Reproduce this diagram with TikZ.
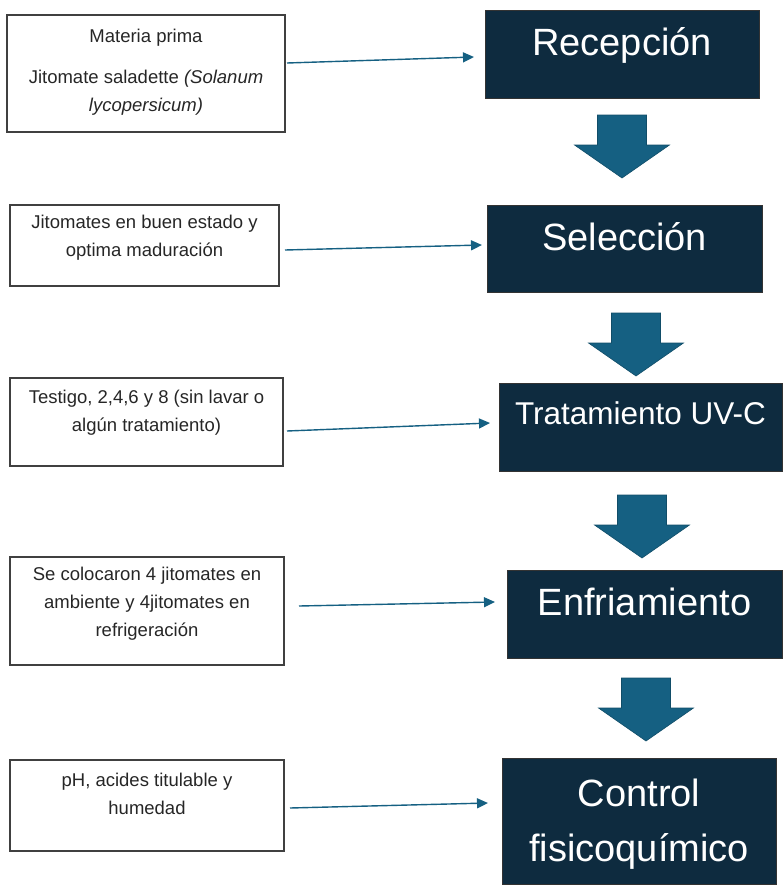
\documentclass[tikz,border=0pt]{standalone}
\usepackage{fontspec}
\setmainfont{Liberation Sans}
\usetikzlibrary{arrows.meta}
\definecolor{stepdark}{HTML}{0E2B3F}
\definecolor{flowblue}{HTML}{156082}
\begin{document}
\begin{tikzpicture}[x=1pt, y=-1pt,
  inbox/.style={draw=black!75, line width=1.2pt, inner sep=0pt},
  intext/.style={align=center, text=black!85, font=\fontsize{18.5}{28}\selectfont, inner sep=0pt},
  stepbox/.style={draw=black!80, fill=stepdark, line width=0.8pt, inner sep=0pt},
  steptext/.style={text=white, font=\fontsize{38}{55}\selectfont, inner sep=0pt, align=center, anchor=base},
  feed/.style={draw=flowblue, line width=1.4pt, -{Triangle[length=11pt,width=10pt]}},
  bigarrow/.style={fill=flowblue, draw=flowblue!80!black, line width=0.6pt}]
\useasboundingbox (0,0) rectangle (783,886);

\node[inbox, minimum width=278, minimum height=117] (l1) at (146,73.5) {};
\node[inbox, minimum width=269, minimum height=81] (l2) at (144.5,245.5) {};
\node[inbox, minimum width=273, minimum height=88] (l3) at (146.5,422) {};
\node[inbox, minimum width=274, minimum height=108] (l4) at (147,611) {};
\node[inbox, minimum width=274, minimum height=91] (l5) at (147,805.5) {};

\node[intext] (t1) at (146,72) {Materia prima\\[13pt]Jitomate saladette \textit{(Solanum}\\\textit{lycopersicum)}};
\node[intext] (t2) at (144.5,238) {Jitomates en buen estado y\\optima maduración};
\node[intext] (t3) at (146.5,413) {Testigo, 2,4,6 y 8 (sin lavar o\\algún tratamiento)};
\node[intext] (t4) at (147,604) {Se colocaron 4 jitomates en\\ambiente y 4jitomates en\\refrigeración};
\node[intext] (t5) at (147,794) {pH, acides titulable y\\humedad};

\node[stepbox, minimum width=274, minimum height=88] (r1) at (622,54) {};
\node[stepbox, minimum width=275, minimum height=87] (r2) at (624.5,248.5) {};
\node[stepbox, minimum width=283, minimum height=88] (r3) at (640.5,427) {};
\node[stepbox, minimum width=275, minimum height=88] (r4) at (644.5,614) {};
\node[stepbox, minimum width=274, minimum height=126] (r5) at (639,821) {};

\node[steptext] (s1) at (622,55) {Recepción};
\node[steptext] (s2) at (624.5,250.5) {Selección};
\node[steptext, font=\fontsize{31.5}{40}\selectfont] (s3) at (640.5,424) {Tratamiento UV-C};
\node[steptext] (s4) at (644.5,615.5) {Enfriamiento};
\node[steptext] (s5) at (639,861) {Control\\fisicoquímico};

\coordinate (a1) at (287,63); \coordinate (b1) at (474,57);
\coordinate (a2) at (285,250); \coordinate (b2) at (482,245);
\coordinate (a3) at (287,431); \coordinate (b3) at (490,423);
\coordinate (a4) at (299,606); \coordinate (b4) at (495,602);
\coordinate (a5) at (290,808); \coordinate (b5) at (488,803);
\foreach \i in {1,...,5}
  \draw[feed] (a\i) -- (b\i);

\foreach \cx/\ty in {622/115, 636/313, 642/495, 646/678}
  \filldraw[bigarrow] (\cx-24.5,\ty) -- (\cx+24.5,\ty) -- (\cx+24.5,\ty+30) -- (\cx+47.5,\ty+30)
    -- (\cx,\ty+63) -- (\cx-47.5,\ty+30) -- (\cx-24.5,\ty+30) -- cycle;
\end{tikzpicture}
\end{document}
